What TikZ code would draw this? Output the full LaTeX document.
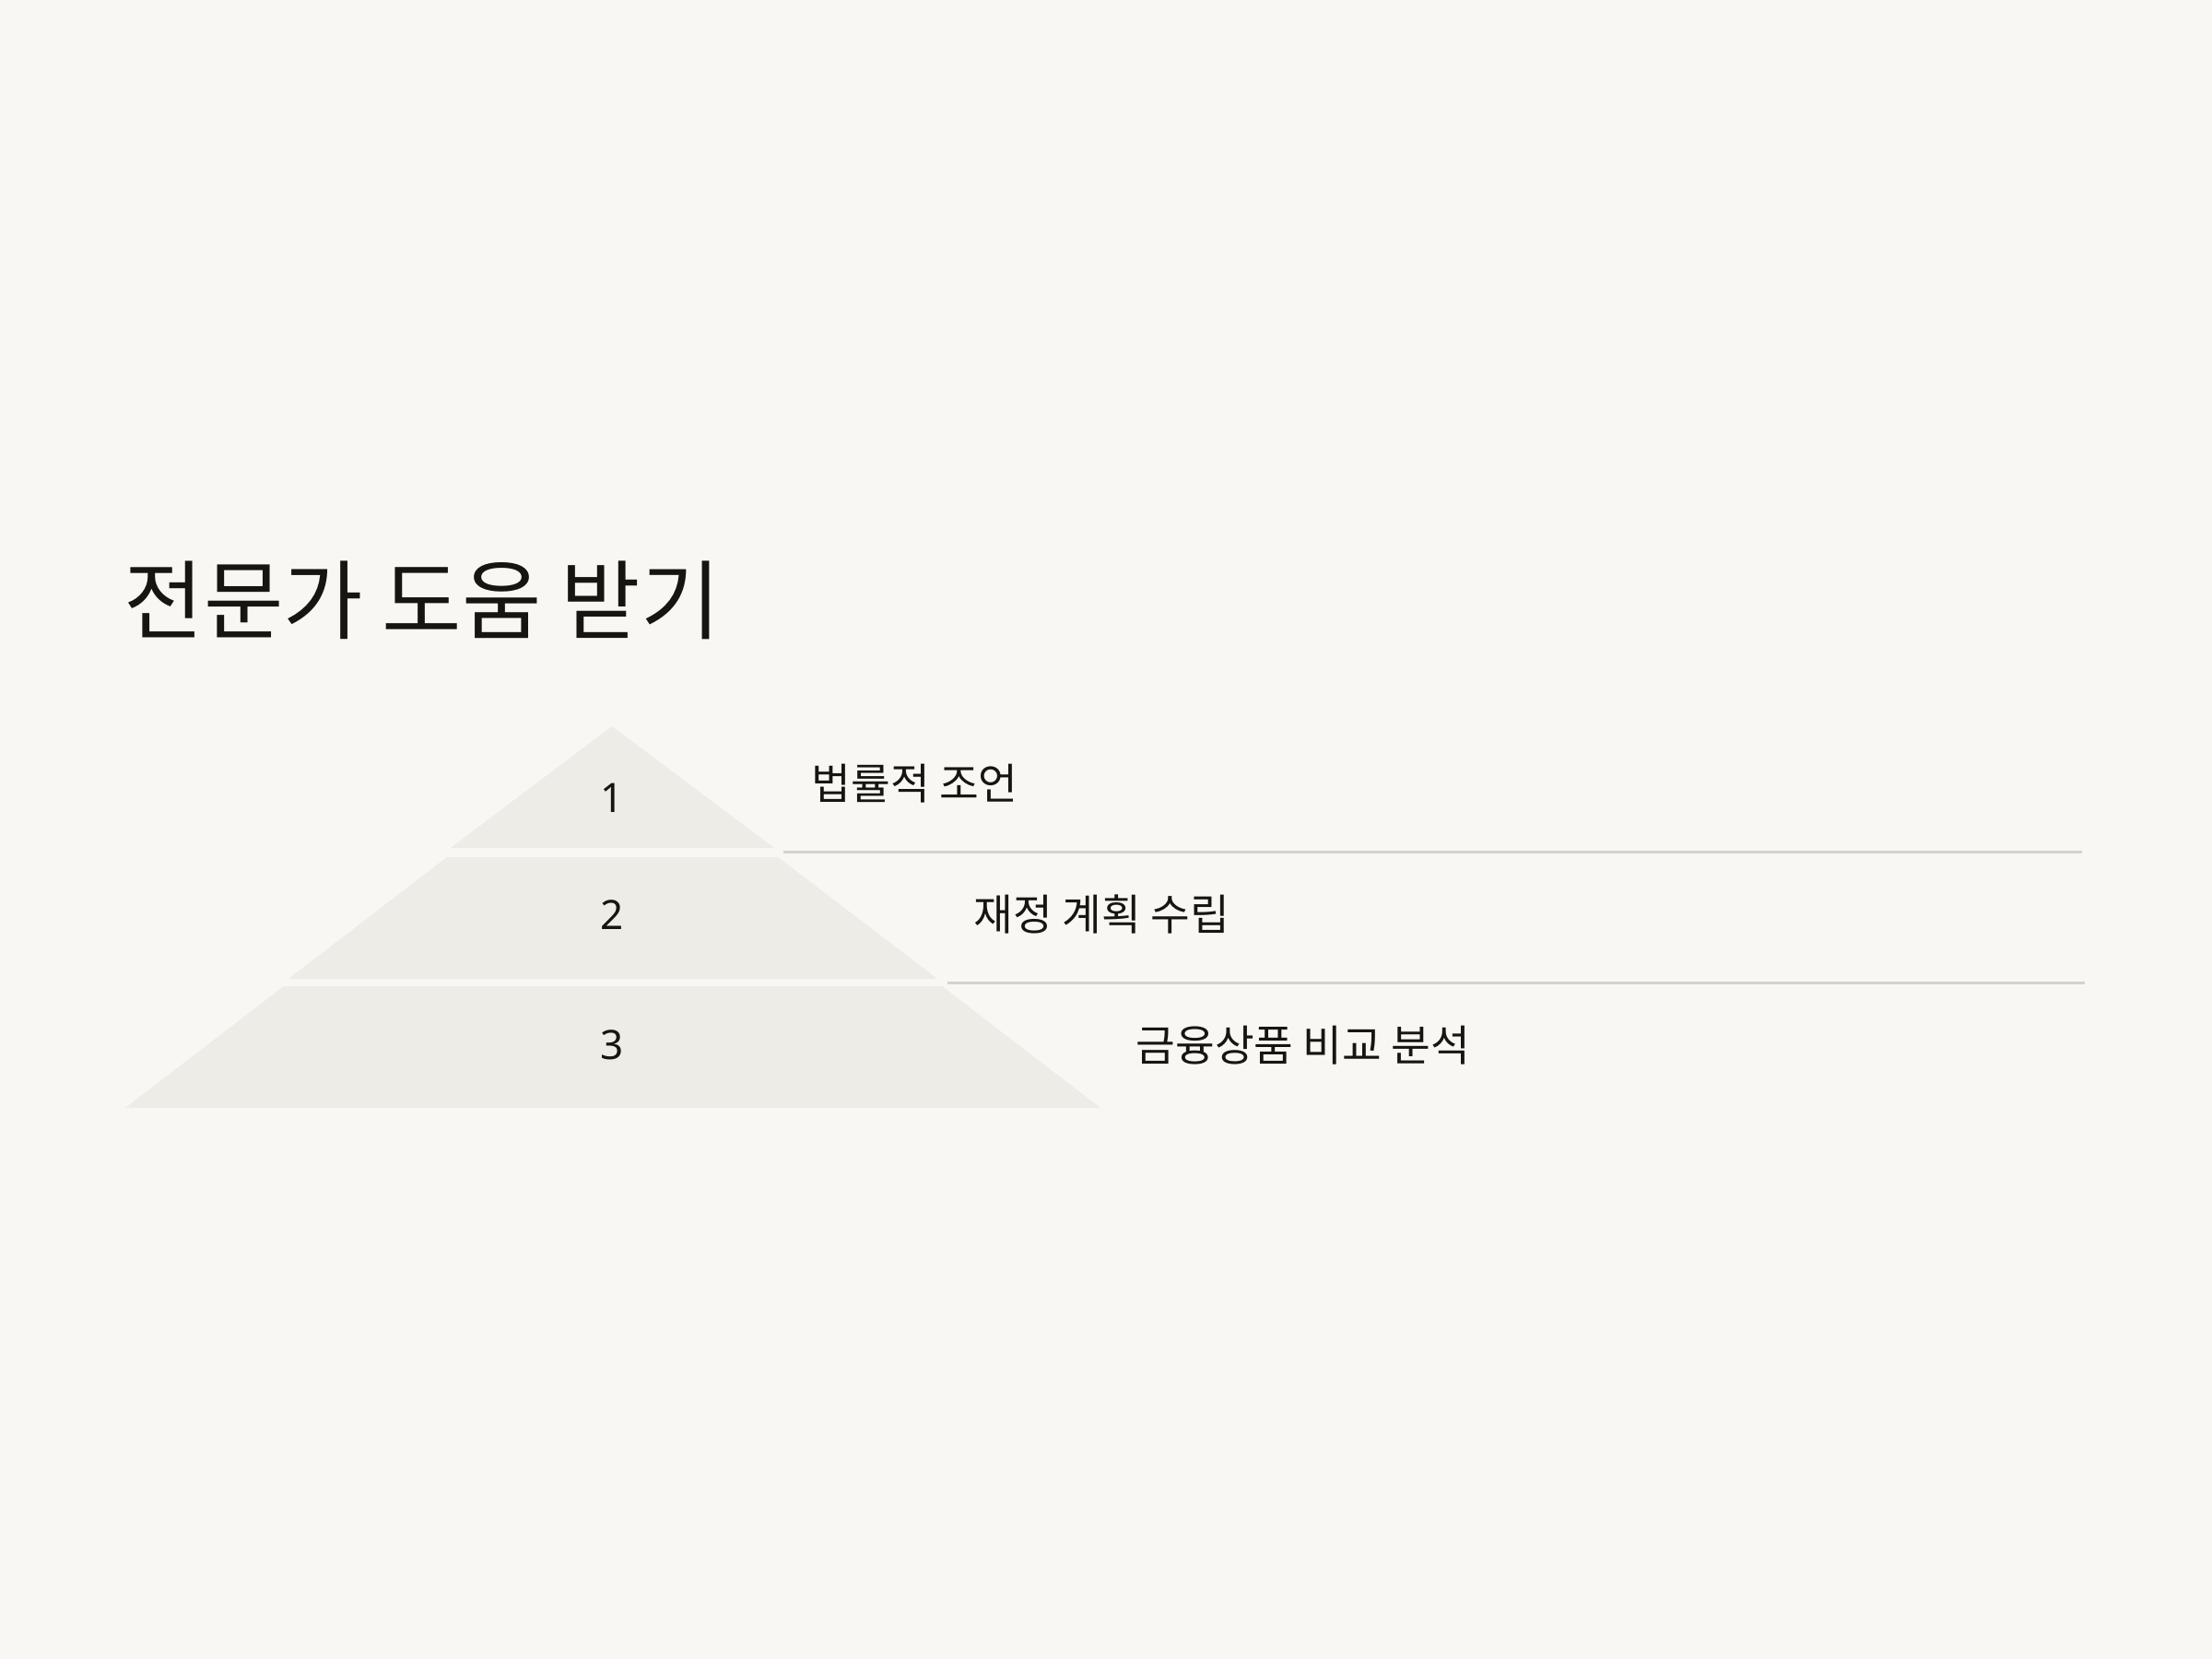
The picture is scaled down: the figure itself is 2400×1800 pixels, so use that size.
\documentclass[tikz,border=0pt]{standalone}
\usepackage{fontspec}
\setmainfont{Noto Sans CJK KR}
\newfontfamily\digitfont{Noto Sans}
\usepackage{tikz}
\usetikzlibrary{positioning,calc}
\definecolor{bgcol}{HTML}{F8F7F3}
\definecolor{tiercol}{HTML}{EEECE6}
\definecolor{rulecol}{HTML}{D3D2CC}
\definecolor{inkcol}{HTML}{16150F}
\tikzset{
title/.style={anchor=west, inner sep=0, text=inkcol, font=\fontsize{26.7}{32}\selectfont},
tier/.style={fill=tiercol, draw=none},
num/.style={inner sep=0, text=inkcol, font=\digitfont\fontsize{12.5}{15}\selectfont},
lbl/.style={anchor=west, inner sep=0, text=inkcol, font=\fontsize{13.2}{16}\selectfont},
sep/.style={draw=rulecol, line width=0.85pt},
}
\begin{document}
\begin{tikzpicture}[x=0.01cm,y=-0.01cm]
    \fill[bgcol] (0,0) rectangle (2400,1800);
    \node[title] (head) at (134,651) {전문가 도움 받기};
    % pyramid tiers
    \fill[tier] (664,788) -- (840,920) -- (489,920) -- cycle;
    \fill[tier] (485,930) -- (844,930) -- (1017,1062) -- (313,1062) -- cycle;
    \fill[tier] (308,1070) -- (1022,1070) -- (1194,1202) -- (136,1202) -- cycle;
    \node[num] (n1) at (664,866) {1};
    \node[num] (n2) at (664,993) {2};
    \node[num] (n3) at (664,1134) {3};
    \node[lbl] (l1) at (880,850) {법률적 조언};
    \node[lbl] (l2) at (1056,992) {재정 계획 수립};
    \node[lbl] (l3) at (1232,1134) {금융상품 비교 분석};
    % separators
    \coordinate (s1a) at (850,924);
    \coordinate (s1b) at (2259,924);
    \coordinate (s2a) at (1028,1066);
    \coordinate (s2b) at (2262,1066);
    \draw[sep] (s1a) -- (s1b);
    \draw[sep] (s2a) -- (s2b);
\end{tikzpicture}
\end{document}
